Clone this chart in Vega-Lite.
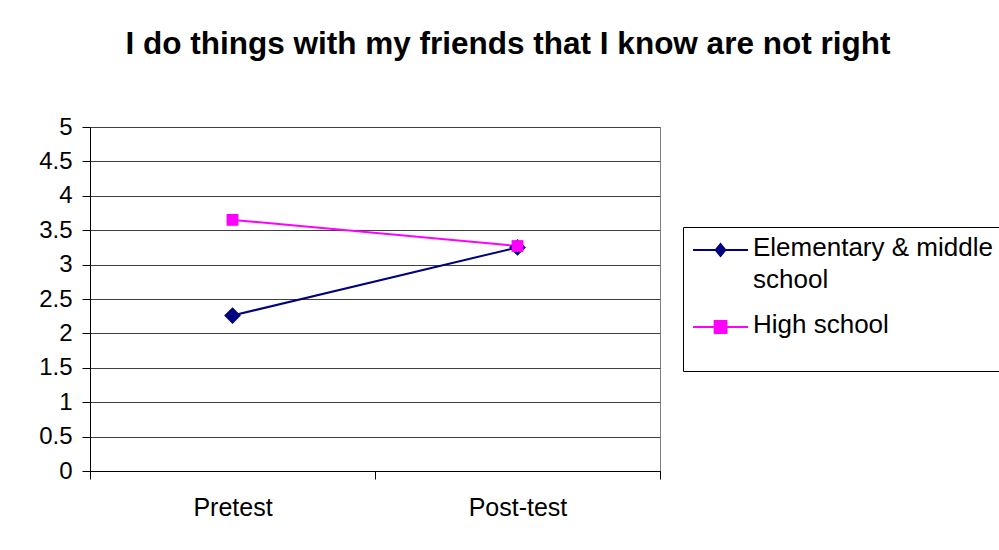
{
  "$schema": "https://vega.github.io/schema/vega-lite/v6.json",
  "width": 570,
  "height": 344,
  "autosize": "none",
  "padding": {"left": 90, "top": 127, "right": 339, "bottom": 79},
  "background": "white",
  "config": {
    "font": "Liberation Sans",
    "view": {"stroke": "#808080", "strokeWidth": 1}
  },
  "title": {
    "text": "I do things with my friends that I know are not right",
    "font": "Liberation Sans",
    "fontSize": 31.5,
    "fontWeight": "bold",
    "color": "black",
    "anchor": "middle",
    "dx": 133,
    "offset": 55
  },
  "data": {
    "values": [
      {"test": "Pretest", "group": "Elementary & middle school", "score": 2.26},
      {"test": "Post-test", "group": "Elementary & middle school", "score": 3.25},
      {"test": "Pretest", "group": "High school", "score": 3.65},
      {"test": "Post-test", "group": "High school", "score": 3.27}
    ]
  },
  "encoding": {
    "x": {
      "field": "test",
      "type": "nominal",
      "sort": ["Pretest", "Post-test"],
      "scale": {"type": "band", "paddingInner": 0, "paddingOuter": 0},
      "axis": {
        "title": null,
        "labelAngle": 0,
        "tickBand": "extent",
        "domainColor": "black",
        "tickColor": "black",
        "tickSize": 8,
        "labelPadding": 16,
        "labelFontSize": 25,
        "labelColor": "black",
        "grid": false
      }
    },
    "y": {
      "field": "score",
      "type": "quantitative",
      "scale": {"domain": [0, 5], "nice": false},
      "axis": {
        "title": null,
        "values": [0, 0.5, 1, 1.5, 2, 2.5, 3, 3.5, 4, 4.5, 5],
        "format": "~g",
        "grid": true,
        "gridColor": "#404040",
        "domainColor": "black",
        "tickColor": "black",
        "tickSize": 8,
        "labelPadding": 10,
        "labelFontSize": 24,
        "labelColor": "black"
      }
    },
    "color": {
      "field": "group",
      "type": "nominal",
      "scale": {"domain": ["Elementary & middle school", "High school"], "range": ["#000080", "#FF00FF"]},
      "legend": {
        "orient": "none",
        "legendX": 593,
        "legendY": 100,
        "title": " ",
        "titleOrient": "bottom",
        "titleFontSize": 12,
        "titlePadding": 12,
        "strokeColor": "black",
        "padding": 10,
        "labelFontSize": 26,
        "labelColor": "black",
        "labelLimit": 400,
        "labelOffset": 34,
        "labelBaseline": "alphabetic",
        "symbolSize": 576,
        "symbolStrokeWidth": 2,
        "rowPadding": 19,
        "labelExpr": "datum.label == 'Elementary & middle school' ? ['Elementary & middle', 'school'] : datum.label",
        "encode": {
          "symbols": {
            "update": {
              "shape": {"signal": "datum.value == 'High school' ? 'M-1.08,0H3.5M0.72,-0.49H1.7V0.49H0.72Z' : 'M-1.08,0H3.5M1.21,-0.5L1.61,0L1.21,0.5L0.81,0Z'"},
              "fill": {"signal": "datum.value == 'High school' ? '#FF00FF' : '#000080'"},
              "stroke": {"signal": "datum.value == 'High school' ? '#FF00FF' : '#000080'"}
            }
          },
          "labels": {
            "update": {
              "lineHeight": {"value": 32},
              "dy": {"value": 6}
            }
          }
        }
      }
    }
  },
  "layer": [
    {"mark": {"type": "line", "strokeWidth": 2}},
    {
      "mark": {"type": "point", "filled": true, "opacity": 1},
      "encoding": {
        "shape": {"condition": {"test": "datum.group == 'High school'", "value": "square"}, "value": "diamond"},
        "size": {"condition": {"test": "datum.group == 'High school'", "value": 140}, "value": 280}
      }
    }
  ]
}
